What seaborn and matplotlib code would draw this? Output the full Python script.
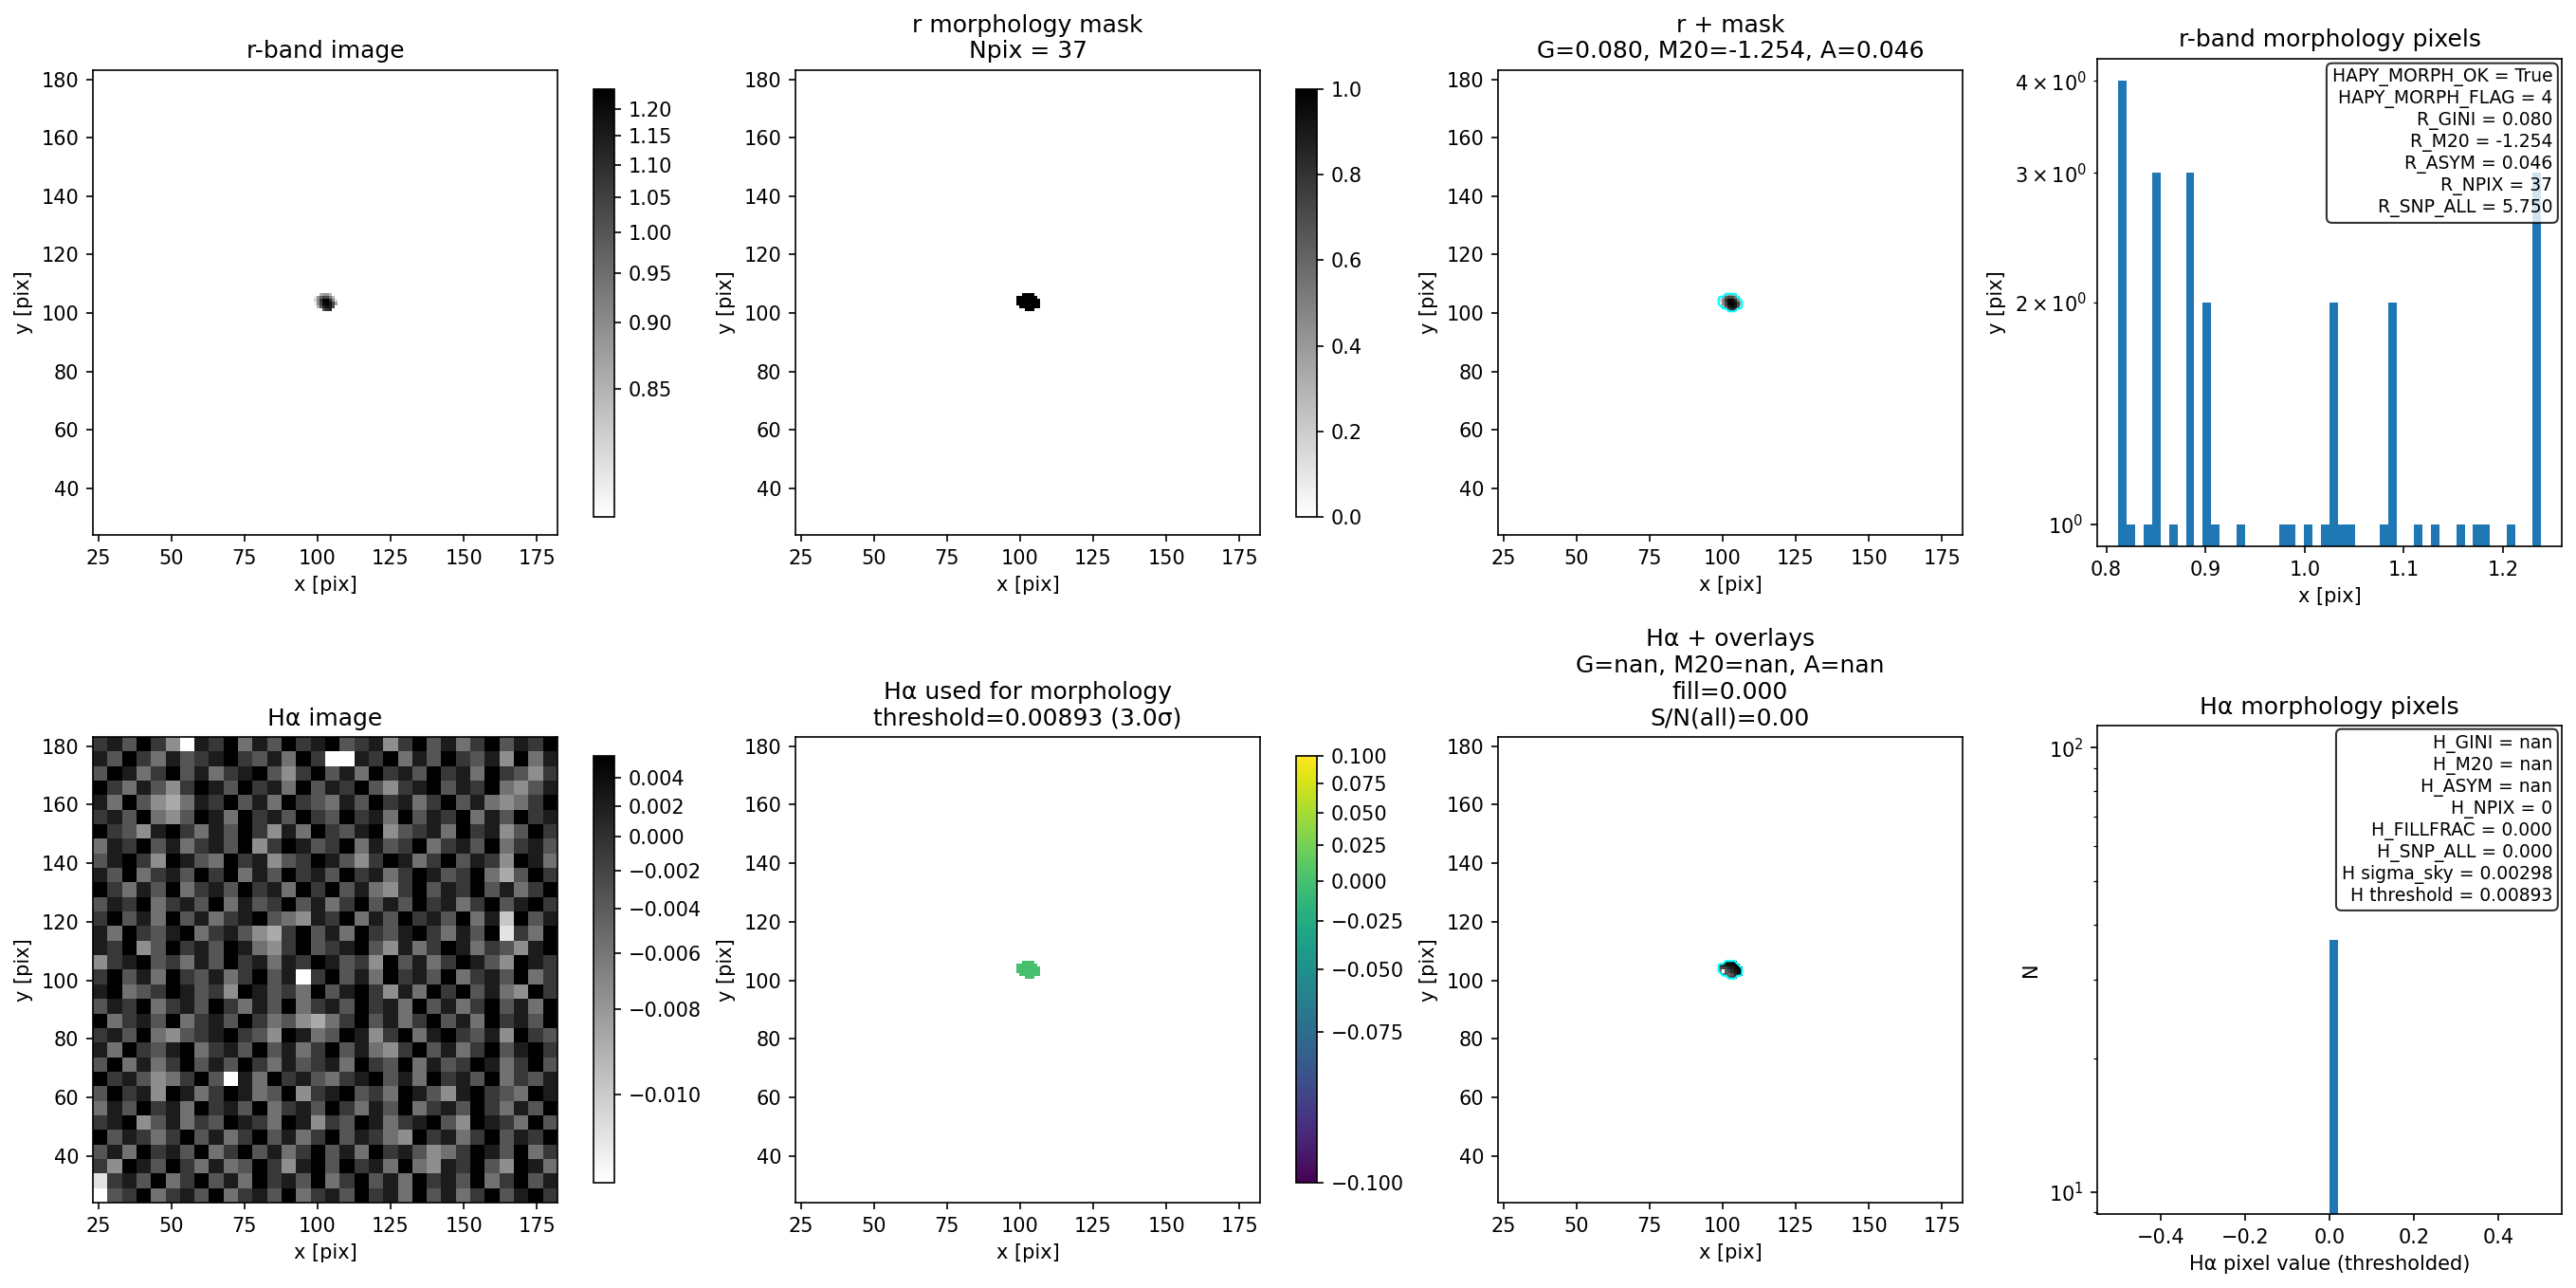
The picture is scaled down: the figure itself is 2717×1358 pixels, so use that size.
import numpy as np
import matplotlib
matplotlib.use("Agg")
import matplotlib.pyplot as plt
import matplotlib.colors as mcolors
import seaborn as sns

nan = np.nan

# ---------------------------------------------------------------
# data
# ---------------------------------------------------------------

# cutout limits (pix)
cut_x = (23.1, 182.1)
cut_y = (24.1, 183.1)

# morphology region box (lower-left corner), 8 x 6 pixels
blob_x0, blob_y0 = 98.6, 100.6

# r-band values inside the morphology mask (rows top -> bottom)
r_blob = np.array([
    [nan,    nan,    0.8504, 0.8830, 0.8845, 0.8419, nan,    nan],
    [0.8155, 0.8860, 0.9782, 1.0379, 1.0302, 0.9356, 0.8490, nan],
    [0.8249, 0.9027, 1.0805, 1.2330, 1.2381, 1.0900, 0.9101, 0.8170],
    [0.8140, 0.9005, 1.0464, 1.2083, 1.2360, 1.1742, 1.0285, 0.8675],
    [nan,    0.8518, 0.9868, 1.1316, 1.1827, 1.1572, 1.0208, 0.8121],
    [nan,    nan,    nan,    1.0038, 1.0880, 1.1146, nan,    nan],
])

# H-alpha values inside the r mask (rows top -> bottom)
ha_blob = np.array([
    [nan,     nan,     0.0030,  0.0042,  0.0045,  0.0038, nan,    nan],
    [0.0005,  0.0010,  0.0025,  0.0035,  0.0040,  0.0048, 0.0050, nan],
    [-0.0030, -0.0020, -0.0015, 0.0008,  0.0020,  0.0035, 0.0046, 0.0052],
    [-0.0060, -0.0115, -0.0040, -0.0025, 0.0005,  0.0030, 0.0045, 0.0050],
    [nan,     -0.0045, -0.0035, -0.0050, -0.0030, 0.0010, 0.0040, 0.0048],
    [nan,     nan,     nan,     -0.0040, -0.0020, 0.0015, nan,    nan],
])

# H-alpha value used for morphology inside the mask (all pixels below threshold)
ha_used_level = 0.0

# H-alpha sky, coarse 32x32 brightness levels (0 = black ... 9 = white), top -> bottom
ha_sky_rows = [
    "21302591" "20413021" "03215203" "14203120",
    "13024132" "10231402" "99120413" "02315041",
    "30142031" "42103520" "31402130" "21402352",
    "02413520" "13021403" "12035210" "31204531",
    "14035641" "20314023" "41302142" "03145420",
    "21304530" "14021302" "30214031" "20413021",
    "02351024" "13025140" "23105321" "40215302",
    "41203142" "13052013" "20413204" "21304213",
    "31025013" "40215320" "13520142" "03125014",
    "13042130" "20413021" "30214201" "32046302",
    "02413042" "13021402" "03145203" "12031420",
    "31204213" "04132031" "42031302" "14203102",
    "20314031" "42103451" "20413021" "30417031",
    "14023104" "21356203" "14023102" "41308240",
    "12053021" "30145203" "21035142" "01423510",
    "52103241" "30214120" "13250314" "20135012",
    "20314023" "14203192" "03140213" "04213042",
    "10432013" "25013240" "31025140" "20314502",
    "31204213" "02413042" "13021403" "14203140",
    "04213042" "13024356" "42031420" "31402130",
    "21304532" "10235014" "30152041" "02315023",
    "14023104" "21303142" "03145203" "14203102",
    "30414203" "13024132" "14023041" "32014203",
    "02135420" "39140213" "42103140" "21304231",
    "30215014" "20143052" "10324013" "51023401",
    "41302140" "21304213" "02413042" "13024130",
    "21053142" "30124015" "23014210" "35012403",
    "03124203" "14203142" "03124502" "14203120",
    "31402130" "42031420" "31402135" "42013042",
    "25013024" "14302510" "30214045" "12035014",
    "82130420" "31402130" "42031402" "13042031",
    "93204213" "04213042" "13021403" "14203102",
]

# display ranges
ha_vmin, ha_vmax = -0.0107, 0.0056
used_vmin, used_vmax = -0.1, 0.1

# measured numbers
r_gini, r_m20, r_asym, r_snp = 0.080, -1.254, 0.046, 5.750
morph_flag = 4
ha_sigma, ha_thresh, ha_nsig = 0.00298, 0.00893, 3.0

# ---------------------------------------------------------------
# derived arrays
# ---------------------------------------------------------------
mask = np.isfinite(r_blob)
npix = int(mask.sum())
r_pix = r_blob[mask]
ha_used = np.where(mask, ha_used_level, nan)
ha_used_pix = ha_used[mask]

# brightness level -> value through the display stretch
sky_levels = np.array([[int(c) for c in row] for row in ha_sky_rows], dtype=float)
ha_sky = ha_vmin + (1 - sky_levels / 9.0) ** 2 * (ha_vmax - ha_vmin)

blob_ext = (blob_x0, blob_x0 + r_blob.shape[1], blob_y0, blob_y0 + r_blob.shape[0])
sky_ext = (cut_x[0], cut_x[1], cut_y[0], cut_y[1])

# padded mask for the outline
mpad = np.pad(mask.astype(float), 1)
xc = blob_x0 - 0.5 + np.arange(mpad.shape[1])
yc = blob_y0 + r_blob.shape[0] + 0.5 - np.arange(mpad.shape[0])

r_norm = mcolors.PowerNorm(0.5, vmin=r_pix.min(), vmax=r_pix.max())
ha_norm = mcolors.PowerNorm(0.5, vmin=ha_vmin, vmax=ha_vmax)
used_norm = mcolors.PowerNorm(0.5, vmin=used_vmin, vmax=used_vmax)

# ---------------------------------------------------------------
# figure
# ---------------------------------------------------------------
W, H, DPI = 2717, 1358, 150
fig = plt.figure(figsize=(W / DPI, H / DPI), dpi=DPI)


def box(l, t, r, b):
    return [l / W, 1 - b / H, (r - l) / W, (b - t) / H]


ax1 = fig.add_axes(box(98, 74, 588, 564))
cax1 = fig.add_axes(box(626, 94, 648, 545))
ax2 = fig.add_axes(box(839, 74, 1329, 564))
cax2 = fig.add_axes(box(1367, 94, 1389, 545))
ax3 = fig.add_axes(box(1580, 74, 2070, 564))
ax4 = fig.add_axes(box(2212, 62, 2702, 576))
ax5 = fig.add_axes(box(98, 777, 588, 1268))
cax5 = fig.add_axes(box(626, 797, 648, 1247))
ax6 = fig.add_axes(box(839, 777, 1329, 1268))
cax6 = fig.add_axes(box(1367, 797, 1389, 1247))
ax7 = fig.add_axes(box(1580, 777, 2070, 1268))
ax8 = fig.add_axes(box(2212, 765, 2702, 1280))


def image_axes(ax, title):
    ax.set_xlim(*cut_x)
    ax.set_ylim(*cut_y)
    ax.set_title(title)
    ax.set_xlabel("x [pix]")
    ax.set_ylabel("y [pix]")


# r-band image
im1 = ax1.imshow(r_blob, extent=blob_ext, origin="upper", cmap="gray_r",
                 norm=r_norm, interpolation="nearest", aspect="auto")
image_axes(ax1, "r-band image")
fig.colorbar(im1, cax=cax1)

# r mask
im2 = ax2.imshow(mask.astype(float), extent=blob_ext, origin="upper", cmap="gray_r",
                 vmin=0, vmax=1, interpolation="nearest", aspect="auto")
image_axes(ax2, f"r morphology mask\nNpix = {npix}")
fig.colorbar(im2, cax=cax2)

# r + mask
ax3.imshow(r_blob, extent=blob_ext, origin="upper", cmap="gray_r",
           norm=r_norm, interpolation="nearest", aspect="auto")
ax3.contour(xc, yc, mpad, levels=[0.5], colors="cyan", linewidths=1)
image_axes(ax3, f"r + mask\nG={r_gini:.3f}, M20={r_m20:.3f}, A={r_asym:.3f}")

# r histogram
sns.histplot(x=r_pix, bins=50, ax=ax4, color="#1f77b4", alpha=1.0,
             edgecolor="none", linewidth=0)
ax4.set_yscale("log")
ax4.set_title("r-band morphology pixels")
ax4.set_xlabel("x [pix]")
ax4.set_ylabel("y [pix]")
r_txt = "\n".join([
    "HAPY_MORPH_OK = True",
    f"HAPY_MORPH_FLAG = {morph_flag}",
    f"R_GINI = {r_gini:.3f}",
    f"R_M20 = {r_m20:.3f}",
    f"R_ASYM = {r_asym:.3f}",
    f"R_NPIX = {npix}",
    f"R_SNP_ALL = {r_snp:.3f}",
])
ax4.text(0.98, 0.98, r_txt, transform=ax4.transAxes, ha="right", va="top",
         fontsize=9, bbox=dict(boxstyle="round", facecolor="white", alpha=0.8))

# H-alpha image
im5 = ax5.imshow(ha_sky, extent=sky_ext, origin="upper", cmap="gray_r",
                 norm=ha_norm, interpolation="nearest", aspect="auto")
image_axes(ax5, "H\u03b1 image")
fig.colorbar(im5, cax=cax5)

# H-alpha used for morphology
im6 = ax6.imshow(ha_used, extent=blob_ext, origin="upper", cmap="viridis",
                 norm=used_norm, interpolation="nearest", aspect="auto")
image_axes(ax6, f"H\u03b1 used for morphology\nthreshold={ha_thresh:.5f} ({ha_nsig:.1f}\u03c3)")
fig.colorbar(im6, cax=cax6)

# H-alpha + overlays
ax7.imshow(ha_blob, extent=blob_ext, origin="upper", cmap="gray_r",
           norm=ha_norm, interpolation="nearest", aspect="auto")
ax7.contour(xc, yc, mpad, levels=[0.5], colors="cyan", linewidths=1)
image_axes(ax7, "H\u03b1 + overlays\nG=nan, M20=nan, A=nan\nfill=0.000\nS/N(all)=0.00")

# H-alpha histogram
sns.histplot(x=ha_used_pix, bins=50, ax=ax8, color="#1f77b4", alpha=1.0,
             edgecolor="none", linewidth=0)
ax8.set_yscale("log")
ax8.set_title("H\u03b1 morphology pixels")
ax8.set_xlabel("H\u03b1 pixel value (thresholded)")
ax8.set_ylabel("N")
h_txt = "\n".join([
    "H_GINI = nan",
    "H_M20 = nan",
    "H_ASYM = nan",
    "H_NPIX = 0",
    "H_FILLFRAC = 0.000",
    "H_SNP_ALL = 0.000",
    f"H sigma_sky = {ha_sigma:.5f}",
    f"H threshold = {ha_thresh:.5f}",
])
ax8.text(0.98, 0.98, h_txt, transform=ax8.transAxes, ha="right", va="top",
         fontsize=9, bbox=dict(boxstyle="round", facecolor="white", alpha=0.8))

fig.savefig("out.png", dpi=DPI)
